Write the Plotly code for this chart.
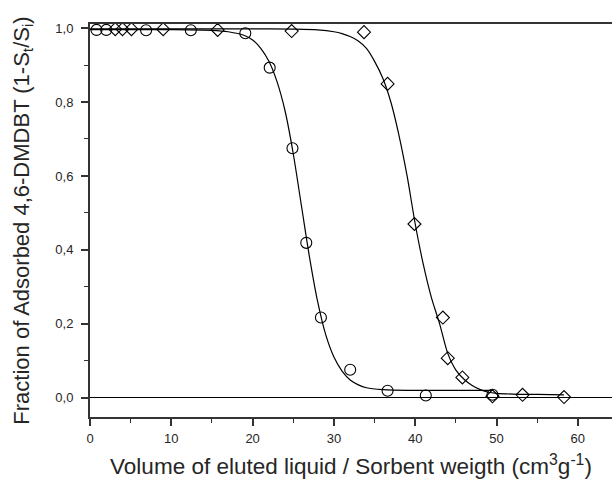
import plotly.graph_objects as go

# ---- data ----
circle_x = [0.8, 2.0, 6.9, 12.4, 19.1, 22.1, 24.9, 26.6, 28.4, 32.0, 36.6, 41.3, 49.5]
circle_y = [0.995, 0.995, 0.994, 0.994, 0.986, 0.893, 0.675, 0.419, 0.217, 0.076, 0.019, 0.006, 0.008]

diamond_x = [3.1, 4.0, 5.1, 9.0, 15.7, 24.8, 33.7, 36.6, 39.9, 43.4, 44.0, 45.8, 49.5, 53.2, 58.3]
diamond_y = [0.997, 0.997, 0.997, 0.997, 0.995, 0.992, 0.989, 0.849, 0.470, 0.217, 0.107, 0.055, 0.004, 0.008, 0.002]

fit_circle_x = [0, 10, 15, 17, 19, 20, 21, 22, 23, 24, 25, 26, 27, 28, 29, 30, 31, 32, 33, 34, 36, 40, 49.5]
fit_circle_y = [0.996, 0.996, 0.994, 0.99, 0.98, 0.968, 0.945, 0.91, 0.855, 0.775, 0.66, 0.52, 0.38, 0.26,
                0.17, 0.11, 0.072, 0.048, 0.035, 0.027, 0.022, 0.02, 0.02]

fit_diamond_x = [0, 10, 20, 25, 28, 30, 31, 32, 33, 34, 35, 36, 37, 38, 39, 40, 41, 42, 43, 44, 45, 46,
                 47, 48, 49, 50, 52, 55, 58.3]
fit_diamond_y = [0.998, 0.998, 0.998, 0.997, 0.995, 0.99, 0.985, 0.977, 0.965, 0.945, 0.91, 0.865, 0.80,
                 0.71, 0.60, 0.47, 0.36, 0.27, 0.20, 0.12, 0.075, 0.05, 0.033, 0.022, 0.015, 0.012, 0.01,
                 0.009, 0.008]

x_ticks = [0, 10, 20, 30, 40, 50, 60]
x_ticktext = ["0", "10", "20", "30", "40", "50", "60"]
y_ticks = [0.0, 0.2, 0.4, 0.6, 0.8, 1.0]
y_ticktext = ["0,0", "0,2", "0,4", "0,6", "0,8", "1,0"]

FONT = "Liberation Sans, Arial, sans-serif"
INK = "#262626"

fig = go.Figure()
fig.add_trace(go.Scatter(x=fit_circle_x, y=fit_circle_y, mode="lines",
                         line=dict(color="black", width=1.2, shape="spline", smoothing=0.8),
                         showlegend=False, hoverinfo="skip"))
fig.add_trace(go.Scatter(x=fit_diamond_x, y=fit_diamond_y, mode="lines",
                         line=dict(color="black", width=1.2, shape="spline", smoothing=0.8),
                         showlegend=False, hoverinfo="skip"))
fig.add_trace(go.Scatter(x=circle_x, y=circle_y, mode="markers",
                         marker=dict(symbol="circle-open", size=11, color="black", line=dict(width=1.1)),
                         showlegend=False))
fig.add_trace(go.Scatter(x=diamond_x, y=diamond_y, mode="markers",
                         marker=dict(symbol="diamond-open", size=10, color="black", line=dict(width=1.1)),
                         showlegend=False))

fig.update_layout(
    width=612, height=482, autosize=False,
    margin=dict(l=90, r=0, t=24, b=65),
    paper_bgcolor="white", plot_bgcolor="white",
    font=dict(family=FONT, color=INK, size=13),
)
fig.update_xaxes(
    range=[0, 64.2], tickvals=x_ticks, ticktext=x_ticktext,
    ticks="outside", ticklen=7, tickwidth=1.5, tickcolor="#333",
    showline=True, linewidth=2, linecolor="#333", mirror=True,
    showgrid=False, zeroline=False,
    minor=dict(ticks="outside", ticklen=4, tickwidth=1.2, tickcolor="#333", dtick=5, tick0=0, showgrid=False),
    tickfont=dict(size=13, family=FONT, color=INK),
    ticklabelstandoff=1,
    title=dict(text="Volume of eluted liquid / Sorbent weigth (cm<sup>3</sup>g<sup>-1</sup>)",
               font=dict(size=22.5, family=FONT, color=INK), standoff=14),
)
fig.update_yaxes(
    range=[-0.052, 1.011], tickvals=y_ticks, ticktext=y_ticktext,
    ticks="outside", ticklen=7, tickwidth=1.5, tickcolor="#333",
    showline=True, linewidth=2, linecolor="#333", mirror=False,
    showgrid=False, zeroline=True, zerolinecolor="black", zerolinewidth=1,
    minor=dict(ticks="outside", ticklen=4, tickwidth=1.2, tickcolor="#333", dtick=0.1, tick0=0, showgrid=False),
    tickfont=dict(size=13, family=FONT, color=INK),
    ticklabelstandoff=5,
    title=dict(text="Fraction of Adsorbed 4,6-DMDBT (1-S<sub>t</sub>/S<sub>i</sub>)",
               font=dict(size=22, family=FONT, color=INK), standoff=20),
)

fig.write_html("out.html")
